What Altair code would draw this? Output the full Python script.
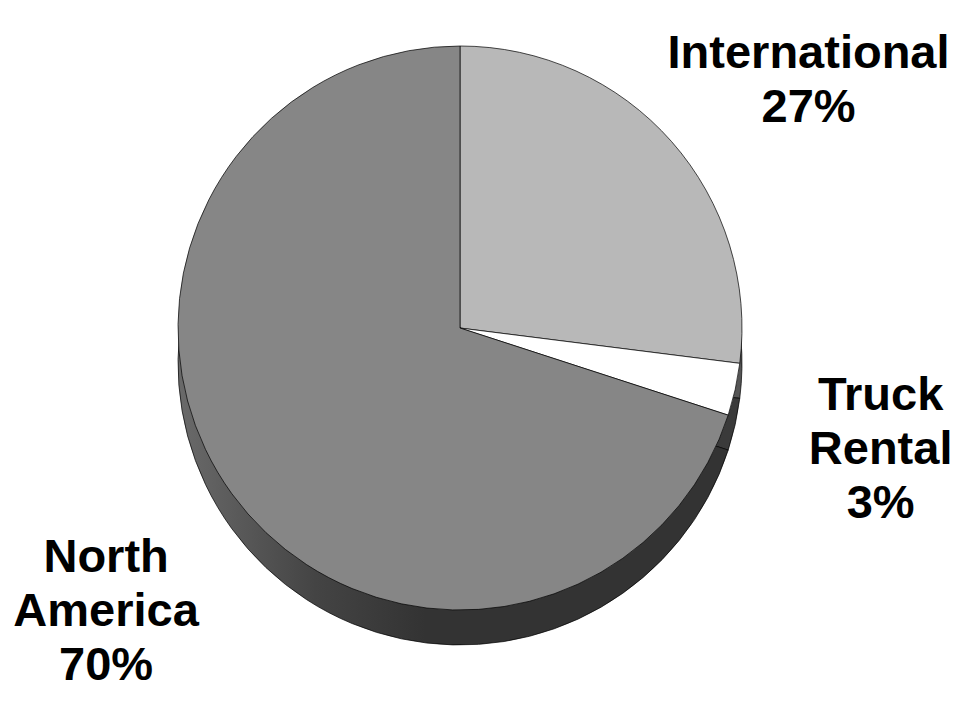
import altair as alt
import pandas as pd
import math

categories = ["International", "Truck Rental", "North America"]
shares = [27, 3, 70]
label_lines = ["International", "Truck\nRental", "North\nAmerica"]

df = pd.DataFrame({
    "category": categories,
    "share": shares,
    "idx": list(range(len(categories))),
    "label": [f"{l}\n{s}%" for l, s in zip(label_lines, shares)],
})

CX, CY = 452, 320
R = 282
DEPTH = 35

base = alt.Chart(df)

na_gradient = {
    "gradient": "linear", "x1": 0, "y1": 0.5, "x2": 1, "y2": 0.5,
    "stops": [
        {"offset": 0.0, "color": "#6a6a6a"},
        {"offset": 0.25, "color": "#444444"},
        {"offset": 0.45, "color": "#333333"},
        {"offset": 1.0, "color": "#333333"},
    ],
}

side = base.mark_arc(radius=R, stroke="#000000", strokeWidth=0.7).encode(
    theta=alt.Theta("share:Q", stack=True),
    order=alt.Order("idx:Q"),
    x=alt.value(CX),
    y=alt.value(CY + DEPTH),
    fill=alt.FillValue(
        "#3a3a3a",
        condition=[
            {"test": "datum.category == 'North America'", "value": na_gradient},
            {"test": "datum.category == 'International'", "value": "#555555"},
        ],
    ),
)

top = base.mark_arc(radius=R, stroke="#000000", strokeWidth=0.7).encode(
    theta=alt.Theta("share:Q", stack=True),
    order=alt.Order("idx:Q"),
    x=alt.value(CX),
    y=alt.value(CY),
    color=alt.Color(
        "category:N",
        scale=alt.Scale(domain=categories, range=["#b8b8b8", "#ffffff", "#868686"]),
        legend=None,
    ),
)

label_base = base.transform_window(
    cum="sum(share)", sort=[alt.SortField("idx")]
).transform_calculate(mid="datum.cum - datum.share / 2")

offsets = {"International": (26, 24), "Truck Rental": (1, -12), "North America": (-6, -9)}

label_layers = []
for cat in categories:
    ddx, ddy = offsets[cat]
    label_layers.append(
        label_base.transform_filter(alt.datum.category == cat).mark_text(
            radius=430, dx=ddx, dy=ddy, font="Liberation Sans", fontSize=47,
            fontWeight="bold", lineBreak="\n", lineHeight=54, align="center",
            baseline="alphabetic", color="#000000",
        ).encode(
            theta=alt.Theta("mid:Q", scale=alt.Scale(domain=[0, 100], range=[0, 2 * math.pi])),
            x=alt.value(CX),
            y=alt.value(CY),
            text="label:N",
        )
    )

chart = alt.layer(side, top, *label_layers).properties(
    width=944, height=704, padding=0, autosize=alt.AutoSizeParams(type="none"),
    background="#ffffff",
).configure_view(stroke=None)

chart.save("out.html", embed_options={"renderer": "svg", "actions": False})
